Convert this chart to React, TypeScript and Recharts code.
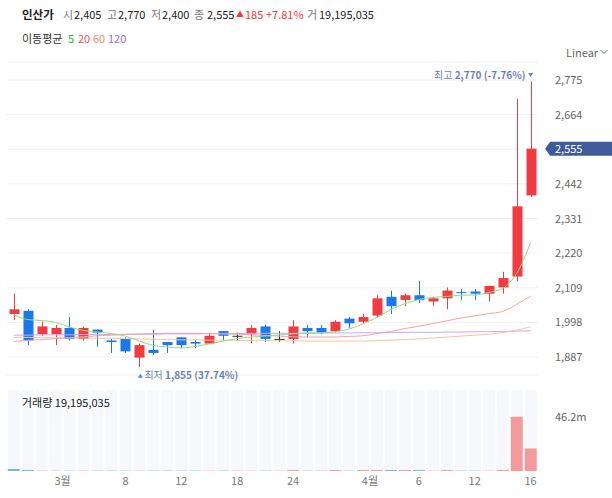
import React from 'react';
import { ComposedChart, BarChart, Bar, Line, XAxis, YAxis, CartesianGrid, ReferenceDot, Cell } from 'recharts';

// ---------- data ----------
const dates = [
  '2021-02-23', '2021-02-24', '2021-02-25', '2021-02-26',
  '2021-03-02', '2021-03-03', '2021-03-04', '2021-03-05', '2021-03-08', '2021-03-09', '2021-03-10', '2021-03-11', '2021-03-12',
  '2021-03-15', '2021-03-16', '2021-03-17', '2021-03-18', '2021-03-19', '2021-03-22', '2021-03-23', '2021-03-24', '2021-03-25',
  '2021-03-26', '2021-03-29', '2021-03-30', '2021-03-31',
  '2021-04-01', '2021-04-02', '2021-04-05', '2021-04-06', '2021-04-07', '2021-04-08', '2021-04-09', '2021-04-12', '2021-04-13',
  '2021-04-14', '2021-04-15', '2021-04-16',
];
const opens = [2025, 2035, 1960, 1960, 1980, 1945, 1975, 1940, 1945, 1885, 1910, 1935, 1950, 1935, 1930, 1970, 1955, 1960, 1985, 1945, 1945, 1980, 1980, 1970, 2010, 2000, 2020, 2080, 2070, 2085, 2065, 2075, 2095, 2097, 2090, 2110, 2145, 2405];
const highs = [2090, 2040, 2000, 1990, 2015, 1985, 1975, 1945, 1950, 1930, 1975, 1935, 1950, 1940, 1965, 1970, 1965, 1990, 1990, 1970, 2005, 1990, 1990, 2005, 2015, 2025, 2085, 2100, 2090, 2130, 2080, 2110, 2105, 2105, 2115, 2160, 2715, 2770];
const lows = [2005, 1925, 1955, 1925, 1940, 1940, 1920, 1900, 1900, 1855, 1895, 1900, 1915, 1915, 1930, 1940, 1940, 1930, 1935, 1935, 1930, 1950, 1960, 1965, 1980, 1995, 2015, 2025, 2050, 2060, 2050, 2040, 2070, 2070, 2065, 2090, 2130, 2400];
const closes = [2040, 1940, 1985, 1980, 1945, 1980, 1965, 1935, 1905, 1925, 1900, 1925, 1925, 1930, 1955, 1955, 1955, 1980, 1945, 1945, 1985, 1970, 1965, 2000, 1995, 2015, 2075, 2050, 2085, 2070, 2075, 2100, 2092, 2090, 2115, 2140, 2370, 2555];
const volumes = [1600000, 800000, 250000, 250000, 250000, 250000, 250000, 250000, 250000, 250000, 250000, 250000, 250000, 250000, 250000, 250000, 250000, 250000, 250000, 250000, 800000, 250000, 250000, 800000, 250000, 800000, 800000, 800000, 800000, 800000, 250000, 800000, 250000, 250000, 250000, 900000, 46200000, 19195035];
const volumeDirs = ['d', 'd', 'u', 'u', 'd', 'u', 'd', 'd', 'd', 'u', 'd', 'd', 'd', 'd', 'u', 'd', 'u', 'u', 'd', 'u', 'u', 'd', 'd', 'u', 'd', 'u', 'u', 'd', 'u', 'd', 'u', 'u', 'd', 'd', 'u', 'u', 'u', 'u'];
const ma5 = [2022, 2007, 2004, 1998, 1983, 1972, 1967, 1962, 1954, 1938, 1924, 1919, 1916, 1921, 1929, 1938, 1946, 1951, 1954, 1958, 1961, 1963, 1964, 1968, 1977, 1993, 2014, 2039, 2058, 2071, 2078, 2081, 2085, 2086, 2094, 2107, 2155, 2253];
const ma20 = [1937, 1940, 1943, 1946, 1949, 1952, 1955, 1957, 1959, 1961, 1962, 1963, 1963, 1963, 1962, 1961, 1960, 1958, 1956, 1954, 1952, 1951, 1951, 1951, 1953, 1955, 1962, 1969, 1978, 1986, 1994, 2003, 2012, 2019, 2026, 2033, 2056, 2082];
const ma60 = [1950, 1950, 1949, 1949, 1948, 1948, 1947, 1947, 1946, 1945, 1944, 1943, 1942, 1942, 1941, 1941, 1940, 1940, 1940, 1939, 1939, 1938, 1938, 1938, 1938, 1938, 1939, 1941, 1943, 1945, 1948, 1951, 1954, 1957, 1960, 1965, 1973, 1984];
const ma120 = [1957, 1957, 1958, 1958, 1958, 1959, 1959, 1959, 1960, 1960, 1960, 1961, 1961, 1961, 1962, 1962, 1962, 1963, 1963, 1963, 1963, 1964, 1964, 1964, 1964, 1965, 1965, 1965, 1966, 1966, 1966, 1967, 1967, 1968, 1968, 1969, 1970, 1971];
const priceTicks = [1887, 1998, 2109, 2220, 2331, 2442, 2553, 2664, 2775];
const xTickDates = ['2021-03-02', '2021-03-08', '2021-03-12', '2021-03-18', '2021-03-24', '2021-04-01', '2021-04-06', '2021-04-12', '2021-04-16'];
const xTickLabels = ['3월', '8', '12', '18', '24', '4월', '6', '12', '16'];
const volumeTicks = [46200000];
const volumeTickLabels = ['46.2m'];
const stockName = '인산가';
const maPeriods = ['5', '20', '60', '120'];

// ---------- layout / style ----------
const FONT = "'Noto Sans CJK KR', 'Noto Sans', sans-serif";
const W = 612;
const PLOT_LEFT = 6.7;
const PLOT_RIGHT = 537.6;
const YAXIS_W = W - PLOT_RIGHT;
const BAND = (PLOT_RIGHT - PLOT_LEFT) / dates.length;
const LABEL_DX = 17.4;
const RED = '#ef3b41';
const BLUE = '#1b78e8';
const DOJI = '#333333';
const VOL_RED = '#f39a9d';
const VOL_BLUE = '#78b2f2';
const ANNOT = '#6d7fb6';
const MA_COLORS = ['#8fdc84', '#f5a3a6', '#f9c49c', '#c7aaf6'];
const MA_TEXT = ['#2fb82f', '#f0524f', '#f2876a', '#9a69ef'];

const fmt = (v: number) => v.toLocaleString('en-US');

const data = dates.map((d, i) => ({
  date: d,
  open: opens[i],
  high: highs[i],
  low: lows[i],
  close: closes[i],
  volume: volumes[i],
  ma5: ma5[i],
  ma20: ma20[i],
  ma60: ma60[i],
  ma120: ma120[i],
}));

const last = data.length - 1;
const maxIdx = highs.indexOf(Math.max(...highs));
const minIdx = lows.indexOf(Math.min(...lows));
const lastClose = closes[last];
const prevClose = closes[last - 1];
const change = lastClose - prevClose;
const changePct = ((change / prevClose) * 100).toFixed(2);
const fromHighPct = (((lastClose - highs[maxIdx]) / highs[maxIdx]) * 100).toFixed(2);
const fromLowPct = (((lastClose - lows[minIdx]) / lows[minIdx]) * 100).toFixed(2);

const Candle = (props: any) => {
  const { x, y, width, height, payload } = props;
  if (x == null || y == null) return <g />;
  const yTop = Math.min(y, y + height);
  const yBot = Math.max(y, y + height);
  const { open, close, high, low } = payload;
  const ratio = high - low > 0 ? (yBot - yTop) / (high - low) : 0;
  const yOpen = yTop + (high - open) * ratio;
  const yClose = yTop + (high - close) * ratio;
  const color = close > open ? RED : close < open ? BLUE : DOJI;
  const cx = Math.round(x + width / 2) + 0.5;
  const bw = 10;
  const bTop = Math.min(yOpen, yClose);
  const bh = Math.max(1, Math.abs(yOpen - yClose));
  return (
    <g>
      <line x1={cx} x2={cx} y1={yTop} y2={yBot} stroke={color} strokeWidth={1} />
      <rect x={cx - bw / 2} y={bTop} width={bw} height={bh} fill={color} />
    </g>
  );
};

const PriceTick = (props: any) => {
  const { x, y, payload } = props;
  // the label under the current-price tag is covered by it
  if (Math.abs(payload.value - lastClose) < 20) return <g />;
  return (
    <text x={x + LABEL_DX} y={y + 4} fontSize={11} fill="#666" fontFamily={FONT}>
      {fmt(payload.value)}
    </text>
  );
};

const VolTick = (props: any) => {
  const { x, y, payload } = props;
  const idx = volumeTicks.indexOf(payload.value);
  return (
    <text x={x + LABEL_DX} y={y + 4} fontSize={11} fill="#666" fontFamily={FONT}>
      {idx >= 0 ? volumeTickLabels[idx] : ''}
    </text>
  );
};

const XTick = (props: any) => {
  const { x, y, payload } = props;
  const idx = xTickDates.indexOf(payload.value);
  if (idx < 0) return <g />;
  const label = xTickLabels[idx];
  const shift = label.endsWith('월') ? -BAND / 2 : 0;
  return (
    <text x={x + shift} y={y + 14} textAnchor="middle" fontSize={11} fill="#777" fontFamily={FONT}>
      {label}
    </text>
  );
};

const PriceTag = (props: any) => {
  const { cy } = props;
  if (cy == null) return <g />;
  const tip = PLOT_RIGHT + 7.5;
  const h = 7;
  return (
    <g>
      <polygon
        points={`${tip},${cy} ${tip + 5},${cy - h} ${W},${cy - h} ${W},${cy + h} ${tip + 5},${cy + h}`}
        fill="#3f5b99"
      />
      <text x={PLOT_RIGHT + LABEL_DX} y={cy + 4} fontSize={11} fill="#fff" fontFamily={FONT}>
        {fmt(lastClose)}
      </text>
    </g>
  );
};

const HighLabel = (props: any) => {
  const { cx, cy } = props;
  if (cx == null) return <g />;
  return (
    <g>
      <text x={cx - 5} y={cy - 3} textAnchor="end" fontSize={10} fill={ANNOT} fontFamily={FONT}>
        <tspan>최고 </tspan>
        <tspan fontWeight="bold">{`${fmt(highs[maxIdx])} (${fromHighPct}%)`}</tspan>
      </text>
      <polygon points={`${cx - 2.5},${cy - 8.5} ${cx + 2.5},${cy - 8.5} ${cx},${cy - 4.5}`} fill={ANNOT} />
    </g>
  );
};

const LowLabel = (props: any) => {
  const { cx, cy } = props;
  if (cx == null) return <g />;
  return (
    <g>
      <polygon points={`${cx - 1.5},${cy + 10.7} ${cx + 3.5},${cy + 10.7} ${cx + 1},${cy + 6.7}`} fill={ANNOT} />
      <text x={cx + 5} y={cy + 12.5} fontSize={10} fill={ANNOT} fontFamily={FONT}>
        <tspan>최저 </tspan>
        <tspan fontWeight="bold">{`${fmt(lows[minIdx])} (${fromLowPct}%)`}</tspan>
      </text>
    </g>
  );
};

const T = (p: { left: number; cy: number; color?: string; size?: number; bold?: boolean; children: React.ReactNode }) => (
  <div
    style={{
      position: 'absolute',
      left: p.left,
      top: p.cy - 8,
      height: 16,
      lineHeight: '16px',
      fontSize: p.size ?? 11,
      color: p.color ?? '#222',
      fontWeight: p.bold ? 700 : 400,
      fontFamily: FONT,
      whiteSpace: 'nowrap',
    }}
  >
    {p.children}
  </div>
);

export default function App() {
  const priceDomain: [number, number] = [1829.3, 2832.7];
  return (
    <div style={{ position: 'absolute', left: 0, top: 0, width: W, height: 498, background: '#fff', overflow: 'hidden' }}>
      {/* volume pane (drawn first, below the price pane's overflow) */}
      <div style={{ position: 'absolute', left: 0, top: 380 }}>
        <BarChart width={W} height={118} data={data} margin={{ top: 10, right: 0, left: PLOT_LEFT, bottom: 7 }} barCategoryGap={1.1}>
          <XAxis
            dataKey="date"
            interval={0}
            height={20}
            axisLine={false}
            tickLine={false}
            tickSize={0}
            tickMargin={0}
            tick={<XTick />}
          />
          <YAxis
            orientation="right"
            width={YAXIS_W}
            domain={[0, 69000000]}
            ticks={volumeTicks}
            type="number"
            axisLine={false}
            tickLine={false}
            tickSize={0}
            tickMargin={0}
            tick={<VolTick />}
          />
          <Bar dataKey="volume" background={{ fill: '#f6f8fc' }} isAnimationActive={false}>
            {data.map((d, i) => (
              <Cell key={d.date} fill={volumeDirs[i] === 'u' ? VOL_RED : VOL_BLUE} />
            ))}
          </Bar>
        </BarChart>
      </div>
      <T left={22} cy={402}>
        <span>거래량 </span>
        <span>{fmt(volumes[last])}</span>
      </T>

      {/* header row 1 */}
      <T left={22} cy={14} bold size={11.5}>{stockName}</T>
      <T left={63} cy={14} color="#777">시</T>
      <T left={74} cy={14}>{fmt(opens[last])}</T>
      <T left={107} cy={14} color="#777">고</T>
      <T left={118} cy={14}>{fmt(highs[last])}</T>
      <T left={151} cy={14} color="#777">저</T>
      <T left={162} cy={14}>{fmt(lows[last])}</T>
      <T left={194} cy={14} color="#777">종</T>
      <T left={207} cy={14}>{fmt(lastClose)}</T>
      <T left={236} cy={14} color={RED} size={8}>▲</T>
      <T left={245} cy={14} color={RED}>{fmt(change)}</T>
      <T left={266} cy={14} color={RED}>{`+${changePct}%`}</T>
      <T left={307} cy={14} color="#777">거</T>
      <T left={319} cy={14}>{fmt(volumes[last])}</T>
      {/* header row 2 */}
      <T left={22} cy={38} color="#333">이동평균</T>
      <T left={68} cy={38} color={MA_TEXT[0]}>{maPeriods[0]}</T>
      <T left={78} cy={38} color={MA_TEXT[1]}>{maPeriods[1]}</T>
      <T left={93} cy={38} color={MA_TEXT[2]}>{maPeriods[2]}</T>
      <T left={108} cy={38} color={MA_TEXT[3]}>{maPeriods[3]}</T>
      {/* Linear selector */}
      <T left={566} cy={52} color="#666">Linear</T>
      <svg style={{ position: 'absolute', left: 600, top: 49 }} width={8} height={6}>
        <polyline points="0.5,1 4,4.5 7.5,1" fill="none" stroke="#777" strokeWidth={1} />
      </svg>

      {/* price pane */}
      <div style={{ position: 'absolute', left: 0, top: 0 }}>
        <ComposedChart width={W} height={388} data={data} margin={{ top: 62, right: 0, left: PLOT_LEFT, bottom: 13 }}>
          <CartesianGrid horizontal vertical={false} stroke="#f0f0f0" />
          <XAxis dataKey="date" hide />
          <YAxis
            orientation="right"
            width={YAXIS_W}
            domain={priceDomain}
            ticks={priceTicks}
            type="number"
            allowDataOverflow
            axisLine={false}
            tickLine={false}
            tickSize={0}
            tickMargin={0}
            tick={<PriceTick />}
          />
          <Bar dataKey={(d: any) => [d.low, d.high]} shape={(p: any) => <Candle {...p} />} isAnimationActive={false} />
          <Line dataKey="ma120" type="monotone" stroke={MA_COLORS[3]} strokeWidth={1} dot={false} isAnimationActive={false} />
          <Line dataKey="ma60" type="monotone" stroke={MA_COLORS[2]} strokeWidth={1} dot={false} isAnimationActive={false} />
          <Line dataKey="ma20" type="monotone" stroke={MA_COLORS[1]} strokeWidth={1} dot={false} isAnimationActive={false} />
          <Line dataKey="ma5" type="monotone" stroke={MA_COLORS[0]} strokeWidth={1} dot={false} isAnimationActive={false} />
          <ReferenceDot x={dates[maxIdx]} y={highs[maxIdx]} shape={(p: any) => <HighLabel {...p} />} />
          <ReferenceDot x={dates[minIdx]} y={lows[minIdx]} shape={(p: any) => <LowLabel {...p} />} />
          <ReferenceDot x={dates[last]} y={lastClose} shape={(p: any) => <PriceTag {...p} />} />
        </ComposedChart>
      </div>
    </div>
  );
}
